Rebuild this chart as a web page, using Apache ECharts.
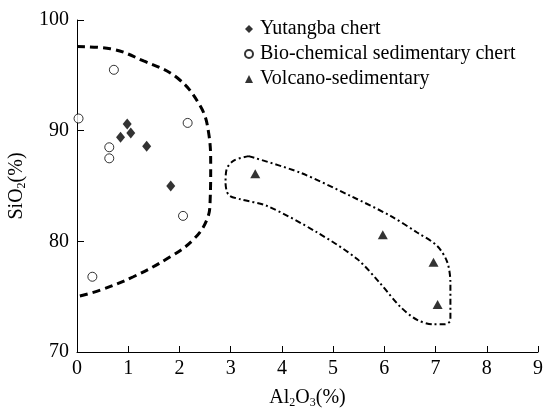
<!DOCTYPE html>
<html lang="en">
  <head>
    <meta charset="UTF-8" />
    <title>SiO2 vs Al2O3</title>
    <script src="https://cdn.jsdelivr.net/npm/echarts@6/dist/echarts.min.js"></script>
  </head>
  <body style="margin: 0">
    <div id="main" style="width: 545px; height: 408px"></div>

    <script>
      const myEchart = echarts.init(document.getElementById("main"));

      // [Al2O3, SiO2]
      var yutangba = [
        [0.98, 90.6],
        [0.85, 89.4],
        [1.05, 89.8],
        [1.36, 88.6],
        [1.83, 85.0],
      ];
      var bioChem = [
        [0.03, 91.1],
        [0.72, 95.5],
        [0.63, 88.5],
        [0.63, 87.5],
        [2.16, 90.7],
        [2.07, 82.3],
        [0.3, 76.8],
      ];
      var volcano = [
        [3.48, 86.1],
        [5.97, 80.6],
        [6.96, 78.1],
        [7.04, 74.3],
      ];
      // field outlines
      var chertField = [
        [0, 97.6], [0.65, 97.4], [1.3, 96.3], [1.95, 94.8], [2.41, 92.2],
        [2.57, 89.8], [2.61, 86.8], [2.6, 83.8], [2.54, 82.0], [2.28, 80.2],
        [1.82, 78.6], [1.1, 76.8], [0.46, 75.6], [0, 75.0],
      ];
      var volcanoField = [
        [3.35, 87.7], [4.36, 86.2], [5.34, 84.1], [6.12, 82.3], [6.64, 80.8],
        [7.03, 79.6], [7.23, 78.1], [7.29, 76.2], [7.29, 72.9], [7.19, 72.5],
        [6.96, 72.5], [6.64, 72.9], [6.31, 74.1], [5.92, 76.2], [5.47, 78.4],
        [4.69, 80.8], [3.71, 83.2], [3.19, 83.8], [2.96, 84.2], [2.9, 85.3],
        [2.92, 86.5], [3.06, 87.3], [3.35, 87.7],
      ];

      var font = "Liberation Serif";
      var fs = 20;

      let options = {
        textStyle: { fontFamily: font, color: "#000" },
        grid: { left: 77, right: 7, top: 20, bottom: 56, containLabel: false, outerBoundsMode: "none" },
        legend: {
          data: ["Yutangba chert", "Bio-chemical sedimentary chert", "Volcano-sedimentary"],
          orient: "vertical",
          left: 239,
          top: 14,
          itemGap: 5,
          itemWidth: 8,
          itemHeight: 8,
          textStyle: { fontFamily: font, fontSize: fs, color: "#000", padding: [0, 0, 0, 2] },
        },
        xAxis: {
          type: "value",
          min: 0,
          max: 9,
          interval: 1,
          name: "{a|Al}{s|2}{a|O}{s|3}{a|(%)}",
          nameLocation: "middle",
          nameGap: 35,
          nameTextStyle: {
            rich: {
              a: { fontFamily: font, fontSize: fs, color: "#000" },
              s: { fontFamily: font, fontSize: 12, color: "#000", verticalAlign: "bottom", padding: [10, 0, 0, 0] },
            },
          },
          axisLine: { lineStyle: { color: "#000", width: 1 } },
          axisTick: { inside: true, length: 6, lineStyle: { color: "#000" } },
          axisLabel: { fontFamily: font, fontSize: fs, color: "#000", margin: 7 },
          splitLine: { show: false },
        },
        yAxis: {
          type: "value",
          min: 70,
          max: 100,
          interval: 10,
          name: "{a|SiO}{s|2}{a|(%)}",
          nameLocation: "middle",
          nameRotate: 90,
          nameGap: 48,
          nameTextStyle: {
            rich: {
              a: { fontFamily: font, fontSize: fs, color: "#000" },
              s: { fontFamily: font, fontSize: 12, color: "#000", verticalAlign: "bottom", padding: [10, 0, 0, 0] },
            },
          },
          axisLine: { show: true, lineStyle: { color: "#000", width: 1 } },
          axisTick: { show: true, inside: true, length: 7, lineStyle: { color: "#000" } },
          axisLabel: { fontFamily: font, fontSize: fs, color: "#000", margin: 8 },
          splitLine: { show: false },
        },
        series: [
          {
            type: "line",
            data: chertField,
            smooth: 0.4,
            symbol: "none",
            lineStyle: { color: "#000", width: 3, type: [8, 5] },
            silent: true,
          },
          {
            type: "line",
            data: volcanoField,
            smooth: 0.3,
            symbol: "none",
            lineStyle: { color: "#000", width: 2, type: [6, 3, 2, 3] },
            silent: true,
          },
          {
            name: "Yutangba chert",
            type: "scatter",
            data: yutangba,
            symbol: "diamond",
            symbolSize: [9, 11],
            itemStyle: { color: "#000" },
          },
          {
            name: "Bio-chemical sedimentary chert",
            type: "scatter",
            data: bioChem,
            symbol: "circle",
            symbolSize: 9,
            itemStyle: { color: "#fff", borderColor: "#000", borderWidth: 1 },
          },
          {
            name: "Volcano-sedimentary",
            type: "scatter",
            data: volcano,
            symbol: "triangle",
            symbolSize: [10, 9],
            itemStyle: { color: "#000" },
          },
        ],
      };

      myEchart.setOption(options);
    </script>
  </body>
</html>
